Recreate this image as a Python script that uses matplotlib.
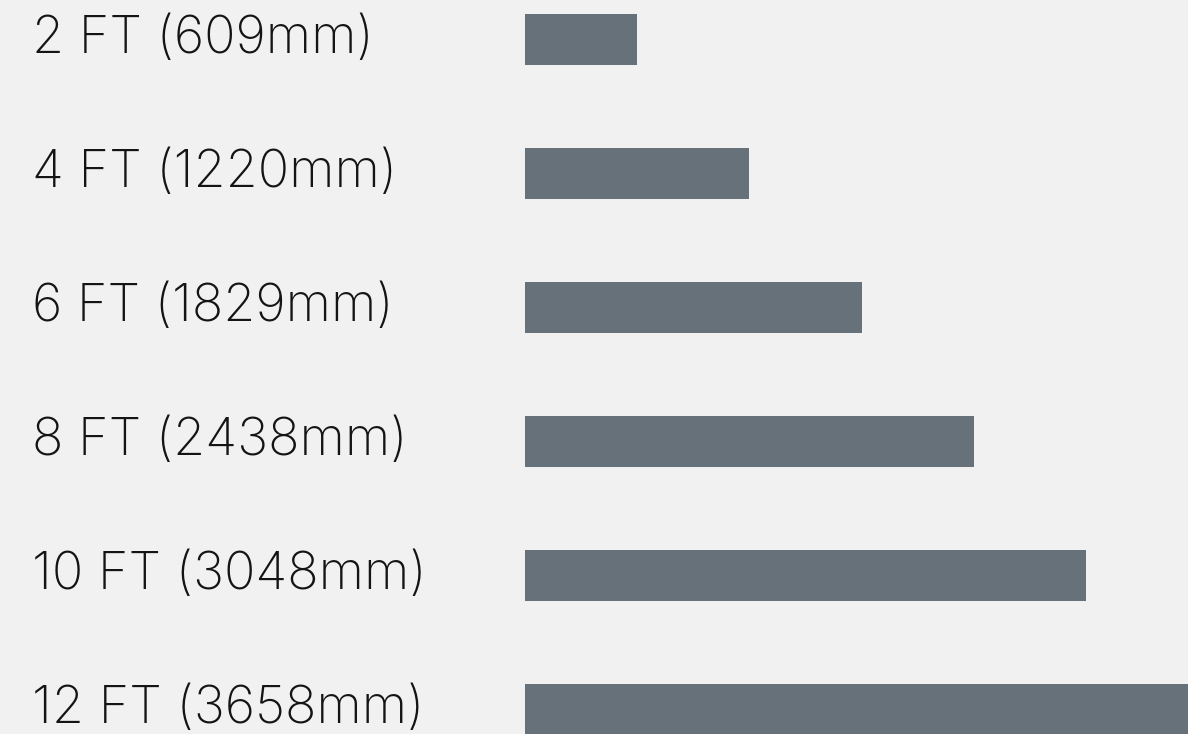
import matplotlib.pyplot as plt
from matplotlib import transforms

# Data
labels = ['2 FT (609mm)', '4 FT (1220mm)', '6 FT (1829mm)',
          '8 FT (2438mm)', '10 FT (3048mm)', '12 FT (3658mm)']
lengths_ft = [2, 4, 6, 8, 10, 12]

bg = '#f1f1f1'
bar_color = '#66717a'

fig = plt.figure(figsize=(11.88, 7.34), dpi=100, facecolor=bg)
ax = fig.add_axes([525 / 1188, 0, 12 * 56.1 / 1188, 1])
ax.set_facecolor(bg)

ypos = list(range(len(labels)))
ax.barh(ypos, lengths_ft, height=0.38, color=bar_color, clip_on=False)

ax.set_xlim(0, 12)
ax.set_ylim(5.183, -0.295)
ax.axis('off')

# labels anchored to the figure's left side
trans = transforms.blended_transform_factory(fig.transFigure, ax.transData)
for y, lab in zip(ypos, labels):
    ax.text(32 / 1188, y, lab, transform=trans, ha='left', va='center',
            fontsize=37.5, family='Inter', fontweight='light', color='#141414')

fig.savefig('out.png', dpi=100, facecolor=bg)
